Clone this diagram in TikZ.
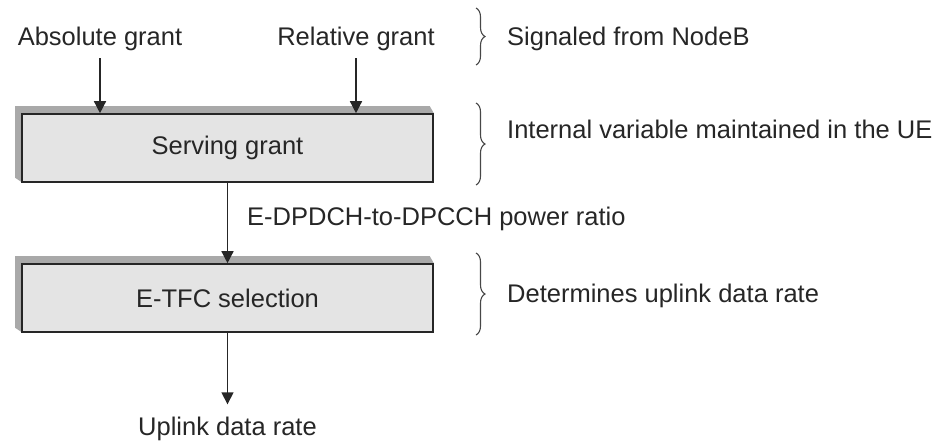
\documentclass[tikz,border=0pt]{standalone}
\usepackage{fontspec}
\setmainfont{Liberation Sans}
\usetikzlibrary{arrows.meta,decorations.pathreplacing,backgrounds}
\definecolor{ink}{HTML}{262626}
\definecolor{boxfill}{HTML}{E4E4E4}
\definecolor{boxshade}{HTML}{A9A9A9}
\tikzset{
  lbl/.style={inner sep=0pt, text=ink, font=\fontsize{25.5}{30}\selectfont},
  stage/.style={draw=ink, line width=1.6pt, fill=boxfill, minimum width=411pt,
    minimum height=68pt, inner sep=0pt, text=ink, font=\fontsize{25.5}{30}\selectfont},
  arr/.style={draw=ink, line width=1.4pt, -{Triangle[width=12pt,length=12pt]}},
  curly/.style={draw=ink!85, line width=1.1pt,
    decorate, decoration={brace, amplitude=9pt, aspect=0.5}},
}
% Raised slab behind a stage box, offset up and to the left
\newcommand{\slab}[1]{%
  \begin{scope}[on background layer]
    \fill[boxshade] ([shift={(0,-1)}]#1.south west) -- ([shift={(-6,-5)}]#1.south west)
      -- ([shift={(-6,-7)}]#1.north west) -- ([shift={(-4,-7)}]#1.north east)
      -- (#1.north east) -- cycle;
  \end{scope}}
\begin{document}
\begin{tikzpicture}[x=1pt,y=-1pt]
  \useasboundingbox (0,0) rectangle (951,440);

  % inputs signalled from the NodeB
  \node[lbl, anchor=base] (abs) at (100,45) {Absolute grant};
  \node[lbl, anchor=base] (rel) at (356,45) {Relative grant};

  % processing stages
  \node[stage] (sg) at (227.5,148) {Serving grant};
  \node[stage] (etfc) at (227.5,298) {E-TFC selection};
  \slab{sg}
  \slab{etfc}

  \node[lbl, anchor=base west] (ratio) at (247,225) {E-DPDCH-to-DPCCH power ratio};
  \node[lbl, anchor=base] (rate) at (227.5,435) {Uplink data rate};

  % connectors
  \draw[arr, shorten <=8pt] (abs.south) -- (abs.south |- sg.north);
  \draw[arr, shorten <=8pt] (rel.south) -- (rel.south |- sg.north);
  \draw[arr] (sg.south) -- (etfc.north);
  \draw[arr, shorten >=12pt] (etfc.south) -- (rate.north);

  % annotations on the right
  \coordinate (b1t) at (476,8);   \coordinate (b1b) at (476,65);
  \coordinate (b2t) at (476,103); \coordinate (b2b) at (476,185);
  \coordinate (b3t) at (476,253); \coordinate (b3b) at (476,335);
  \draw[curly] (b1t) -- (b1b);
  \draw[curly] (b2t) -- (b2b);
  \draw[curly] (b3t) -- (b3b);
  \node[lbl, anchor=base west] (n1) at (507,45) {Signaled from NodeB};
  \node[lbl, anchor=base west] (n2) at (507,138) {Internal variable maintained in the UE};
  \node[lbl, anchor=base west] (n3) at (507,302) {Determines uplink data rate};
\end{tikzpicture}
\end{document}
